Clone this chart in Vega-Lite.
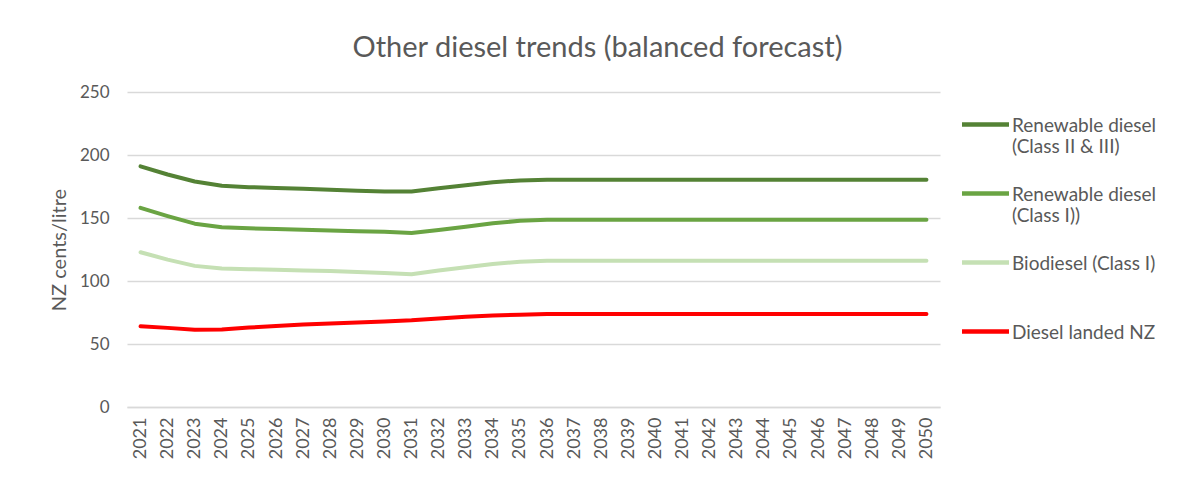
{
  "$schema": "https://vega.github.io/schema/vega-lite/v6.json",
  "width": 813,
  "height": 315,
  "autosize": {"type": "none"},
  "padding": {"left": 127, "top": 92, "right": 245, "bottom": 85},
  "background": "white",
  "title": {"text": "Other diesel trends (balanced forecast)", "font": "Lato", "fontSize": 29, "fontWeight": "normal", "color": "#595959", "anchor": "middle", "dx": 64, "offset": 20},
  "config": {"view": {"stroke": null}, "font": "Lato"},
  "data": {"values": [
    {"year":"2021","series":"Renewable diesel\n(Class II & III)","value":191},
    {"year":"2022","series":"Renewable diesel\n(Class II & III)","value":184.5},
    {"year":"2023","series":"Renewable diesel\n(Class II & III)","value":179},
    {"year":"2024","series":"Renewable diesel\n(Class II & III)","value":175.6},
    {"year":"2025","series":"Renewable diesel\n(Class II & III)","value":174.5},
    {"year":"2026","series":"Renewable diesel\n(Class II & III)","value":173.8},
    {"year":"2027","series":"Renewable diesel\n(Class II & III)","value":173.2},
    {"year":"2028","series":"Renewable diesel\n(Class II & III)","value":172.4},
    {"year":"2029","series":"Renewable diesel\n(Class II & III)","value":171.7},
    {"year":"2030","series":"Renewable diesel\n(Class II & III)","value":171},
    {"year":"2031","series":"Renewable diesel\n(Class II & III)","value":171},
    {"year":"2032","series":"Renewable diesel\n(Class II & III)","value":173.6},
    {"year":"2033","series":"Renewable diesel\n(Class II & III)","value":176},
    {"year":"2034","series":"Renewable diesel\n(Class II & III)","value":178.4},
    {"year":"2035","series":"Renewable diesel\n(Class II & III)","value":179.8},
    {"year":"2036","series":"Renewable diesel\n(Class II & III)","value":180.4},
    {"year":"2037","series":"Renewable diesel\n(Class II & III)","value":180.4},
    {"year":"2038","series":"Renewable diesel\n(Class II & III)","value":180.4},
    {"year":"2039","series":"Renewable diesel\n(Class II & III)","value":180.4},
    {"year":"2040","series":"Renewable diesel\n(Class II & III)","value":180.4},
    {"year":"2041","series":"Renewable diesel\n(Class II & III)","value":180.4},
    {"year":"2042","series":"Renewable diesel\n(Class II & III)","value":180.4},
    {"year":"2043","series":"Renewable diesel\n(Class II & III)","value":180.4},
    {"year":"2044","series":"Renewable diesel\n(Class II & III)","value":180.4},
    {"year":"2045","series":"Renewable diesel\n(Class II & III)","value":180.4},
    {"year":"2046","series":"Renewable diesel\n(Class II & III)","value":180.4},
    {"year":"2047","series":"Renewable diesel\n(Class II & III)","value":180.4},
    {"year":"2048","series":"Renewable diesel\n(Class II & III)","value":180.4},
    {"year":"2049","series":"Renewable diesel\n(Class II & III)","value":180.4},
    {"year":"2050","series":"Renewable diesel\n(Class II & III)","value":180.4},
    {"year":"2021","series":"Renewable diesel\n(Class I))","value":158},
    {"year":"2022","series":"Renewable diesel\n(Class I))","value":151.5},
    {"year":"2023","series":"Renewable diesel\n(Class I))","value":145.5},
    {"year":"2024","series":"Renewable diesel\n(Class I))","value":142.6},
    {"year":"2025","series":"Renewable diesel\n(Class I))","value":141.8},
    {"year":"2026","series":"Renewable diesel\n(Class I))","value":141.2},
    {"year":"2027","series":"Renewable diesel\n(Class I))","value":140.7},
    {"year":"2028","series":"Renewable diesel\n(Class I))","value":140},
    {"year":"2029","series":"Renewable diesel\n(Class I))","value":139.4},
    {"year":"2030","series":"Renewable diesel\n(Class I))","value":139},
    {"year":"2031","series":"Renewable diesel\n(Class I))","value":138.1},
    {"year":"2032","series":"Renewable diesel\n(Class I))","value":140.5},
    {"year":"2033","series":"Renewable diesel\n(Class I))","value":143},
    {"year":"2034","series":"Renewable diesel\n(Class I))","value":145.8},
    {"year":"2035","series":"Renewable diesel\n(Class I))","value":147.8},
    {"year":"2036","series":"Renewable diesel\n(Class I))","value":148.7},
    {"year":"2037","series":"Renewable diesel\n(Class I))","value":148.7},
    {"year":"2038","series":"Renewable diesel\n(Class I))","value":148.7},
    {"year":"2039","series":"Renewable diesel\n(Class I))","value":148.7},
    {"year":"2040","series":"Renewable diesel\n(Class I))","value":148.7},
    {"year":"2041","series":"Renewable diesel\n(Class I))","value":148.7},
    {"year":"2042","series":"Renewable diesel\n(Class I))","value":148.7},
    {"year":"2043","series":"Renewable diesel\n(Class I))","value":148.7},
    {"year":"2044","series":"Renewable diesel\n(Class I))","value":148.7},
    {"year":"2045","series":"Renewable diesel\n(Class I))","value":148.7},
    {"year":"2046","series":"Renewable diesel\n(Class I))","value":148.7},
    {"year":"2047","series":"Renewable diesel\n(Class I))","value":148.7},
    {"year":"2048","series":"Renewable diesel\n(Class I))","value":148.7},
    {"year":"2049","series":"Renewable diesel\n(Class I))","value":148.7},
    {"year":"2050","series":"Renewable diesel\n(Class I))","value":148.7},
    {"year":"2021","series":"Biodiesel (Class I)","value":122.8},
    {"year":"2022","series":"Biodiesel (Class I)","value":117},
    {"year":"2023","series":"Biodiesel (Class I)","value":112},
    {"year":"2024","series":"Biodiesel (Class I)","value":110},
    {"year":"2025","series":"Biodiesel (Class I)","value":109.4},
    {"year":"2026","series":"Biodiesel (Class I)","value":109},
    {"year":"2027","series":"Biodiesel (Class I)","value":108.3},
    {"year":"2028","series":"Biodiesel (Class I)","value":108},
    {"year":"2029","series":"Biodiesel (Class I)","value":107.1},
    {"year":"2030","series":"Biodiesel (Class I)","value":106.3},
    {"year":"2031","series":"Biodiesel (Class I)","value":105.3},
    {"year":"2032","series":"Biodiesel (Class I)","value":108.4},
    {"year":"2033","series":"Biodiesel (Class I)","value":111},
    {"year":"2034","series":"Biodiesel (Class I)","value":113.5},
    {"year":"2035","series":"Biodiesel (Class I)","value":115.3},
    {"year":"2036","series":"Biodiesel (Class I)","value":116},
    {"year":"2037","series":"Biodiesel (Class I)","value":116},
    {"year":"2038","series":"Biodiesel (Class I)","value":116},
    {"year":"2039","series":"Biodiesel (Class I)","value":116},
    {"year":"2040","series":"Biodiesel (Class I)","value":116},
    {"year":"2041","series":"Biodiesel (Class I)","value":116},
    {"year":"2042","series":"Biodiesel (Class I)","value":116},
    {"year":"2043","series":"Biodiesel (Class I)","value":116},
    {"year":"2044","series":"Biodiesel (Class I)","value":116},
    {"year":"2045","series":"Biodiesel (Class I)","value":116},
    {"year":"2046","series":"Biodiesel (Class I)","value":116},
    {"year":"2047","series":"Biodiesel (Class I)","value":116},
    {"year":"2048","series":"Biodiesel (Class I)","value":116},
    {"year":"2049","series":"Biodiesel (Class I)","value":116},
    {"year":"2050","series":"Biodiesel (Class I)","value":116},
    {"year":"2021","series":"Diesel landed NZ","value":64},
    {"year":"2022","series":"Diesel landed NZ","value":62.8},
    {"year":"2023","series":"Diesel landed NZ","value":61.3},
    {"year":"2024","series":"Diesel landed NZ","value":61.5},
    {"year":"2025","series":"Diesel landed NZ","value":63},
    {"year":"2026","series":"Diesel landed NZ","value":64.3},
    {"year":"2027","series":"Diesel landed NZ","value":65.4},
    {"year":"2028","series":"Diesel landed NZ","value":66.3},
    {"year":"2029","series":"Diesel landed NZ","value":67},
    {"year":"2030","series":"Diesel landed NZ","value":67.8},
    {"year":"2031","series":"Diesel landed NZ","value":68.8},
    {"year":"2032","series":"Diesel landed NZ","value":70.3},
    {"year":"2033","series":"Diesel landed NZ","value":71.6},
    {"year":"2034","series":"Diesel landed NZ","value":72.6},
    {"year":"2035","series":"Diesel landed NZ","value":73.3},
    {"year":"2036","series":"Diesel landed NZ","value":73.8},
    {"year":"2037","series":"Diesel landed NZ","value":73.8},
    {"year":"2038","series":"Diesel landed NZ","value":73.8},
    {"year":"2039","series":"Diesel landed NZ","value":73.8},
    {"year":"2040","series":"Diesel landed NZ","value":73.8},
    {"year":"2041","series":"Diesel landed NZ","value":73.8},
    {"year":"2042","series":"Diesel landed NZ","value":73.8},
    {"year":"2043","series":"Diesel landed NZ","value":73.8},
    {"year":"2044","series":"Diesel landed NZ","value":73.8},
    {"year":"2045","series":"Diesel landed NZ","value":73.8},
    {"year":"2046","series":"Diesel landed NZ","value":73.8},
    {"year":"2047","series":"Diesel landed NZ","value":73.8},
    {"year":"2048","series":"Diesel landed NZ","value":73.8},
    {"year":"2049","series":"Diesel landed NZ","value":73.8},
    {"year":"2050","series":"Diesel landed NZ","value":73.8}
  ]},
  "mark": {"type": "line", "strokeWidth": 4, "strokeCap": "round", "strokeJoin": "round"},
  "encoding": {
    "x": {"field": "year", "type": "ordinal", "scale": {"type": "point", "padding": 0.5},
      "axis": {"title": null, "labelAngle": -90, "labelFont": "Lato", "labelFontSize": 18, "labelColor": "#595959", "labelPadding": 10, "ticks": false, "domainColor": "#d9d9d9", "domainWidth": 1.5, "labelBaseline": "middle", "labelAlign": "right"}},
    "y": {"field": "value", "type": "quantitative", "scale": {"domain": [0, 250]},
      "axis": {"title": "NZ cents/litre", "titleFont": "Lato", "titleFontSize": 20, "titleFontWeight": "normal", "titleColor": "#595959", "titlePadding": 10, "values": [0, 50, 100, 150, 200, 250], "labelFont": "Lato", "labelFontSize": 17, "labelColor": "#595959", "labelPadding": 18, "ticks": false, "domain": false, "gridColor": "#d9d9d9", "gridWidth": 1.5}},
    "color": {"field": "series", "type": "nominal",
      "scale": {"domain": ["Renewable diesel\n(Class II & III)", "Renewable diesel\n(Class I))", "Biodiesel (Class I)", "Diesel landed NZ"], "range": ["#548235", "#6aa443", "#c5e0b4", "#ff0000"]},
      "legend": {"title": null, "orient": "none", "legendX": 846, "legendY": 12, "symbolType": "M-2.35,0.8H2.35", "symbolSize": 400, "symbolStrokeWidth": 4.5, "labelFont": "Lato", "labelFontSize": 19, "labelColor": "#595959", "labelExpr": "datum.label == 'Biodiesel (Class I)' ? ['Biodiesel (Class I)', ' '] : split(datum.label, '\\n')", "labelBaseline": "top", "labelOffset": 14, "rowPadding": 16, "labelLimit": 220}
    }
  }
}
